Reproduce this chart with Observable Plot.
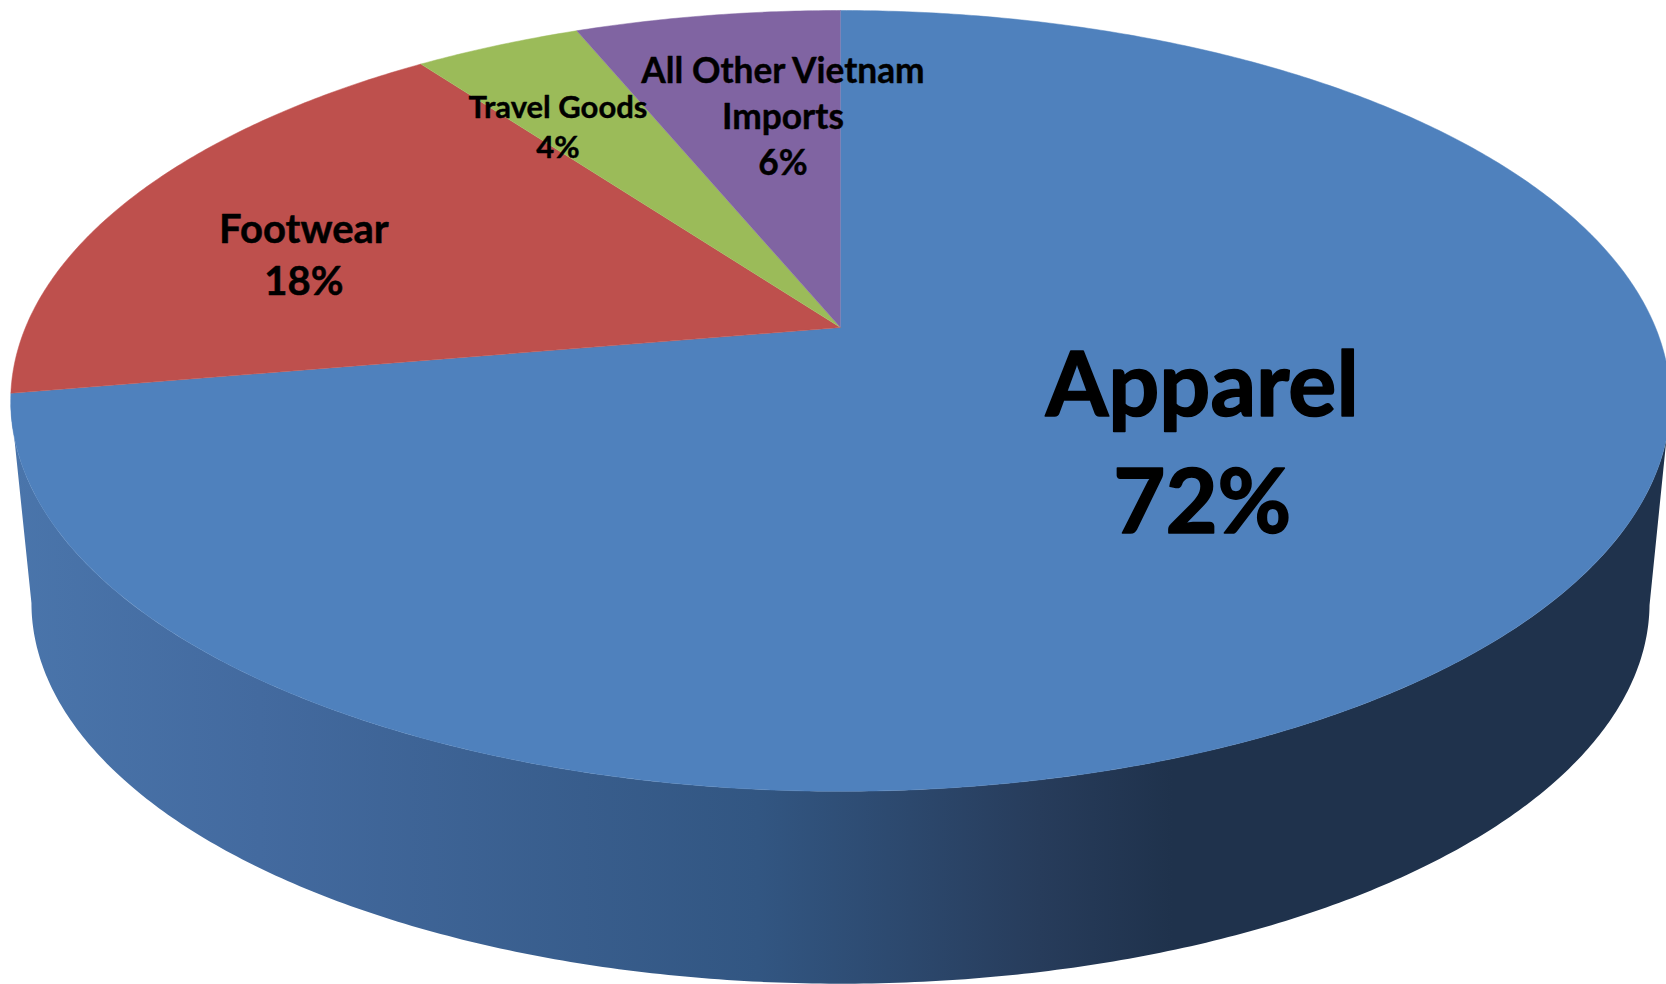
<!DOCTYPE html>
<html>
<head>
<meta charset="utf-8">
<style>html,body{margin:0;padding:0;background:#fff}svg{display:block}</style>
<script src="https://cdn.jsdelivr.net/npm/d3@7"></script>
<script src="https://cdn.jsdelivr.net/npm/@observablehq/plot@0.6"></script>
</head>
<body>
<div id="chart"></div>
<script>
// Data
const categories = ["Apparel", "Footwear", "Travel Goods", "All Other Vietnam Imports"];
const shares = [72.3, 17.6, 3.9, 6.2];
const shareLabels = ["72%", "18%", "4%", "6%"];
const labelLines = ["Apparel", "Footwear", "Travel Goods", "All Other Vietnam\nImports"];
const sliceColors = ["#4f81bd", "#be504d", "#9bbb59", "#8064a2"];

// Presentation of the 3-D pie
const tilt = 0.188, squash = 376.6 / 815, lowerScale = 0.975, depth = 204 / 815;
const labelAngles = [123.2, 286.9, 327.2, 352.9];
const labelRadii = [0.503, 0.715, 0.712, 0.639];
const labelSizes = [90, 40, 31, 35.3];
const labelStrokes = [1.6, 0.5, 0.4, 0.4];
const labelLineHeight = 1.3;

const rad = d => d * Math.PI / 180;
const project = (deg, r = 1) => {
  const X = r * Math.sin(rad(deg)), Y = r * Math.cos(rad(deg)), w = 1 + tilt * Y;
  return {x: X / w, y: squash * Y / w};
};
const ends = d3.cumsum(shares);
const slicePts = categories.flatMap((name, i) => {
  const a0 = (ends[i] - shares[i]) * 3.6, a1 = ends[i] * 3.6;
  const pts = [{name, ...project(0, 0)}];
  for (let a = a0; a < a1; a += 0.5) pts.push({name, ...project(a)});
  pts.push({name, ...project(a1)});
  return pts;
});
const edge = Math.acos(-tilt) * 180 / Math.PI; // angle of the silhouette
const wallPts = [];
for (let a = edge; a <= 360 - edge; a += 0.5) wallPts.push(project(a));
for (let a = 360 - edge; a >= edge; a -= 0.5) {
  const p = project(a);
  wallPts.push({x: p.x * lowerScale, y: p.y * lowerScale - depth});
}
const labels = categories.map((name, i) => ({
  ...project(labelAngles[i], labelRadii[i]),
  text: `${labelLines[i]}\n${shareLabels[i]}`,
  size: labelSizes[i],
  sw: labelStrokes[i]
}));

const chart = Plot.plot({
  width: 1666, height: 984,
  margin: 0,
  x: {domain: [-840 / 815, 826 / 815], axis: null},
  y: {domain: [-657 / 815, 327 / 815], axis: null},
  color: {domain: categories, range: sliceColors},
  style: {background: "#fff"},
  marks: [
    Plot.line(wallPts, {x: "x", y: "y", fill: "url(#wallGradient)", stroke: "none"}),
    Plot.line(slicePts, {x: "x", y: "y", z: "name", fill: "name", stroke: "name", strokeWidth: 0.5}),
    ...labels.map(l => Plot.text([l], {
      x: "x", y: "y", text: "text",
      fontSize: l.size, lineHeight: labelLineHeight, fontWeight: "bold",
      fontFamily: "Lato", fill: "#000", stroke: "#000", strokeWidth: l.sw,
      textAnchor: "middle", lineAnchor: "middle"
    }))
  ]
});
const defs = d3.create("svg:defs");
const grad = defs.append("linearGradient").attr("id", "wallGradient")
  .attr("x1", "0%").attr("x2", "100%").attr("y1", "0%").attr("y2", "0%");
[[0, "#4a75ab"], [0.15, "#436a9f"], [0.45, "#325682"], [0.62, "#273c5b"], [0.7, "#1f324c"], [1, "#1f324c"]]
  .forEach(([o, c]) => grad.append("stop").attr("offset", o).attr("stop-color", c));
chart.insertBefore(defs.node(), chart.firstChild);
document.getElementById("chart").appendChild(chart);
</script>
</body>
</html>
